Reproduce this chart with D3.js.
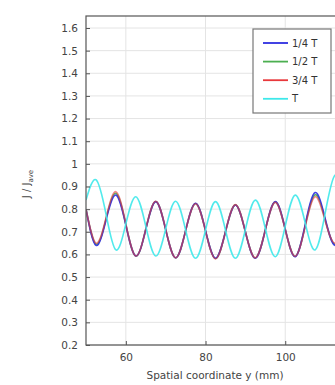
<!DOCTYPE html>
<html>
<head>
<meta charset="utf-8">
<script src="https://cdn.jsdelivr.net/npm/d3@7/dist/d3.min.js"></script>
<style>
  body { margin: 0; background: #fff; }
  text { font-family: "DejaVu Sans", sans-serif; }
</style>
</head>
<body>
<div id="chart"></div>
<script>
// positions along y (mm), one sample every quarter period
const xValues = [50, 52.5, 55, 57.5, 60, 62.5, 65, 67.5, 70, 72.5, 75, 77.5, 80, 82.5,
  85, 87.5, 90, 92.5, 95, 97.5, 100, 102.5, 105, 107.5, 110, 112.5, 115];

const quarterT = [0.80, 0.64, 0.75, 0.862, 0.73, 0.593, 0.71, 0.833, 0.71, 0.585, 0.705, 0.826, 0.705, 0.583,
  0.70, 0.818, 0.70, 0.583, 0.708, 0.833, 0.712, 0.59, 0.73, 0.873, 0.76, 0.64, 0.75];
const halfT = [0.80, 0.645, 0.755, 0.87, 0.732, 0.593, 0.711, 0.834, 0.71, 0.585, 0.705, 0.825, 0.704, 0.582,
  0.70, 0.819, 0.70, 0.584, 0.708, 0.832, 0.711, 0.591, 0.726, 0.864, 0.755, 0.645, 0.75];
const threeQuarterT = [0.80, 0.65, 0.76, 0.877, 0.735, 0.593, 0.712, 0.835, 0.71, 0.585, 0.705, 0.824, 0.703, 0.58,
  0.70, 0.82, 0.70, 0.585, 0.708, 0.83, 0.71, 0.592, 0.722, 0.855, 0.75, 0.65, 0.75];
const fullT = [0.84, 0.93, 0.78, 0.62, 0.735, 0.855, 0.725, 0.593, 0.713, 0.835, 0.708, 0.583, 0.708, 0.833,
  0.708, 0.583, 0.71, 0.84, 0.715, 0.59, 0.725, 0.862, 0.74, 0.62, 0.78, 0.95, 0.85];

const seriesNames = ["1/4 T", "1/2 T", "3/4 T", "T"];
const seriesColors = ["#2e2ee0", "#4caf50", "#e8383c", "#3ee8ea"];
const xTicks = [60, 80, 100];
const yTicks = [0.2, 0.3, 0.4, 0.5, 0.6, 0.7, 0.8, 0.9, 1, 1.1, 1.2, 1.3, 1.4, 1.5, 1.6];

const width = 335, height = 385;
const plotLeft = 86, plotTop = 16, plotRight = 345, plotBottom = 345;

const svg = d3.select("#chart").append("svg")
    .attr("width", width)
    .attr("height", height);

const x = d3.scaleLinear().domain([50, 115]).range([plotLeft, plotRight]);
const y = d3.scaleLinear().domain([0.2, 1.6]).range([plotBottom, 28]);

svg.append("clipPath").attr("id", "plot-clip")
  .append("rect")
    .attr("x", plotLeft).attr("y", plotTop)
    .attr("width", plotRight - plotLeft).attr("height", plotBottom - plotTop);

// grid
svg.append("g").selectAll("line")
  .data(yTicks)
  .enter().append("line")
    .attr("x1", plotLeft).attr("x2", plotRight)
    .attr("y1", d => y(d)).attr("y2", d => y(d))
    .attr("stroke", "#e4e4e4");

svg.append("g").selectAll("line")
  .data(xTicks)
  .enter().append("line")
    .attr("x1", d => x(d)).attr("x2", d => x(d))
    .attr("y1", plotTop).attr("y2", plotBottom)
    .attr("stroke", "#e4e4e4");

// curves; 1/2 T sits underneath, red is drawn see-through over blue
const allSeries = [quarterT, halfT, threeQuarterT, fullT];
const drawOrder = [1, 0, 2, 3];
const line = d3.line()
    .x((d, i) => x(xValues[i]))
    .y(d => y(d))
    .curve(d3.curveNatural);

svg.append("g")
    .attr("clip-path", "url(#plot-clip)")
  .selectAll("path")
  .data(drawOrder)
  .enter().append("path")
    .attr("d", k => line(allSeries[k]))
    .attr("fill", "none")
    .attr("stroke", k => seriesColors[k])
    .attr("stroke-width", 1.6)
    .attr("stroke-opacity", k => k == 2 ? 0.6 : 0.9);

// axes, ticks pointing inward
const yAxis = d3.axisLeft(y).tickValues(yTicks).tickSizeInner(-4).tickSizeOuter(0).tickPadding(8)
    .tickFormat(d3.format("~g"));
const xAxis = d3.axisBottom(x).tickValues(xTicks).tickSizeInner(-4).tickSizeOuter(0).tickPadding(9);

const gy = svg.append("g").attr("transform", `translate(${plotLeft},0)`).call(yAxis);
const gx = svg.append("g").attr("transform", `translate(0,${plotBottom})`).call(xAxis);
[gy, gx].forEach(g => {
  g.select(".domain").remove();
  g.selectAll("line").attr("stroke", "#555");
  g.selectAll("text").attr("fill", "#444").style("font-size", "10.5px");
});

svg.append("rect")
    .attr("x", plotLeft).attr("y", plotTop)
    .attr("width", plotRight - plotLeft).attr("height", plotBottom - plotTop)
    .attr("fill", "none")
    .attr("stroke", "#555")
    .attr("stroke-width", 1.2);

// axis titles
svg.append("text")
    .attr("x", 215)
    .attr("y", 379)
    .attr("text-anchor", "middle")
    .attr("fill", "#444")
    .style("font-size", "10.5px")
    .text("Spatial coordinate y (mm)");

const yTitle = svg.append("text")
    .attr("transform", "translate(30,184) rotate(-90)")
    .attr("text-anchor", "middle")
    .attr("fill", "#444")
    .style("font-size", "10px");
yTitle.append("tspan").text("J / J");
yTitle.append("tspan").attr("dy", 3).style("font-size", "7px").text("ave");

// legend
const legend = svg.append("g");
legend.append("rect")
    .attr("x", 253).attr("y", 29)
    .attr("width", 78).attr("height", 84)
    .attr("fill", "#fff")
    .attr("stroke", "#777")
    .attr("stroke-width", 1.2);

const entries = legend.selectAll("g.entry")
  .data(seriesNames)
  .enter().append("g")
    .attr("class", "entry")
    .attr("transform", (d, i) => `translate(0, ${43 + i * 18.6})`);

entries.append("line")
    .attr("x1", 263).attr("x2", 288)
    .attr("stroke", (d, i) => seriesColors[i])
    .attr("stroke-width", 1.8);

entries.append("text")
    .attr("x", 292)
    .attr("dy", "0.35em")
    .attr("fill", "#333")
    .style("font-size", "10px")
    .text(d => d);
</script>
</body>
</html>
